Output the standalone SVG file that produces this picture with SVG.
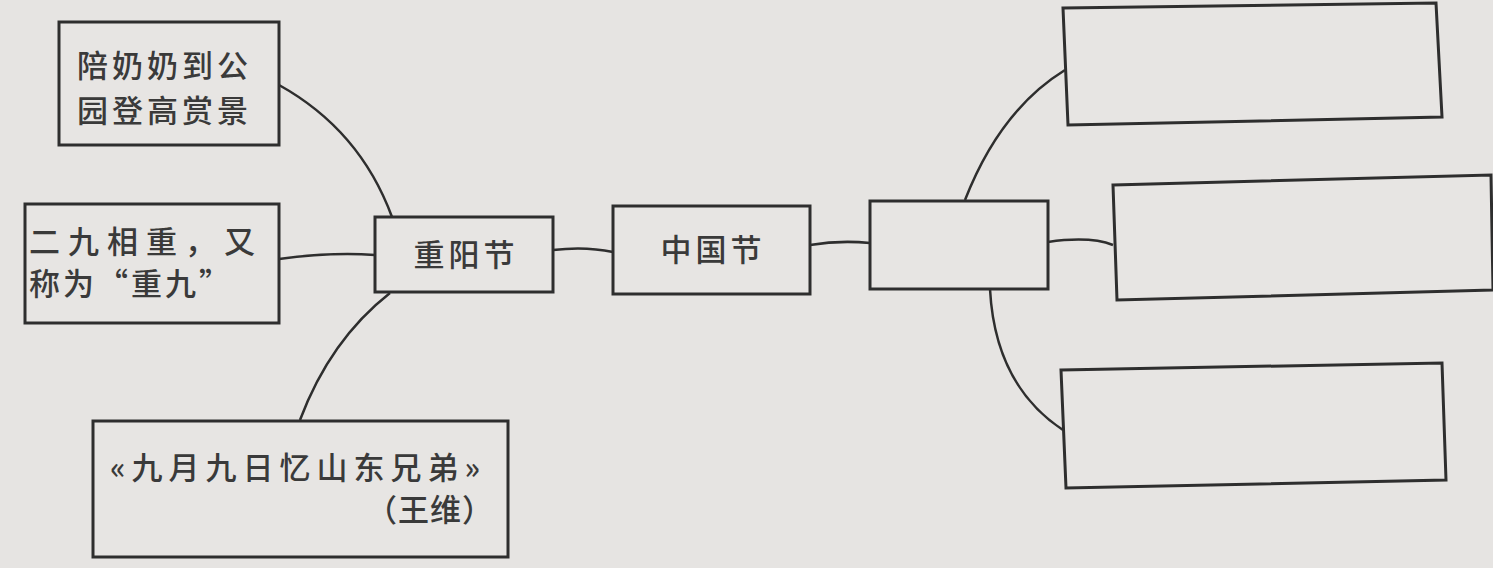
<svg xmlns="http://www.w3.org/2000/svg" width="1493" height="568" viewBox="0 0 1493 568">
<style>
.box{fill:#e7e5e3;stroke:#2e2e2e;stroke-width:3}
.t{font-family:"Noto Sans CJK SC","Liberation Sans",sans-serif;font-size:31px;font-weight:500;fill:#3a3a3a}
.c{fill:none;stroke:#2e2e2e;stroke-width:2.5}
</style>
<rect width="1493" height="568" fill="#e6e4e2"/>
<g id="connectors">
<path class="c" d="M279,85 Q360,130 392,217"/>
<path class="c" d="M279,259 Q330,252 375,255"/>
<path class="c" d="M300,420 Q330,340 390,293"/>
<path class="c" d="M553,250 Q585,246 613,252"/>
<path class="c" d="M810,245 Q840,240 870,243"/>
<path class="c" d="M965,200 Q1000,110 1065,70"/>
<path class="c" d="M1048,242 Q1090,236 1113,245"/>
<path class="c" d="M990,289 Q995,385 1063,430"/>
</g>
<g id="n1"><rect class="box" x="59" y="22" width="220" height="123"/>
<text class="t" x="77" y="77" letter-spacing="4">陪奶奶到公</text>
<text class="t" x="77" y="122" letter-spacing="4">园登高赏景</text></g>
<g id="n2"><rect class="box" x="25" y="204" width="254" height="119"/>
<text class="t" x="29" y="253" letter-spacing="8">二九相重，又</text>
<text class="t" x="29" y="295" letter-spacing="3">称为“重九”</text></g>
<g id="n3"><rect class="box" x="93" y="421" width="415" height="136"/>
<text class="t" x="110" y="479" letter-spacing="6">«九月九日忆山东兄弟»</text>
<text class="t" x="494" y="521" text-anchor="end" letter-spacing="1">（王维）</text></g>
<g id="n4"><rect class="box" x="375" y="217" width="178" height="75"/>
<text class="t" x="466" y="266" text-anchor="middle" letter-spacing="4">重阳节</text></g>
<g id="n5"><rect class="box" x="613" y="206" width="197" height="88"/>
<text class="t" x="713" y="261" text-anchor="middle" letter-spacing="4">中国节</text></g>
<g id="n6"><rect class="box" x="870" y="201" width="178" height="88"/></g>
<g id="n7"><polygon class="box" points="1063,8 1436,3 1442,117 1068,125"/></g>
<g id="n8"><polygon class="box" points="1113,185 1491,175 1493,290 1117,300"/></g>
<g id="n9"><polygon class="box" points="1061,370 1442,363 1446,480 1066,488"/></g>
</svg>
